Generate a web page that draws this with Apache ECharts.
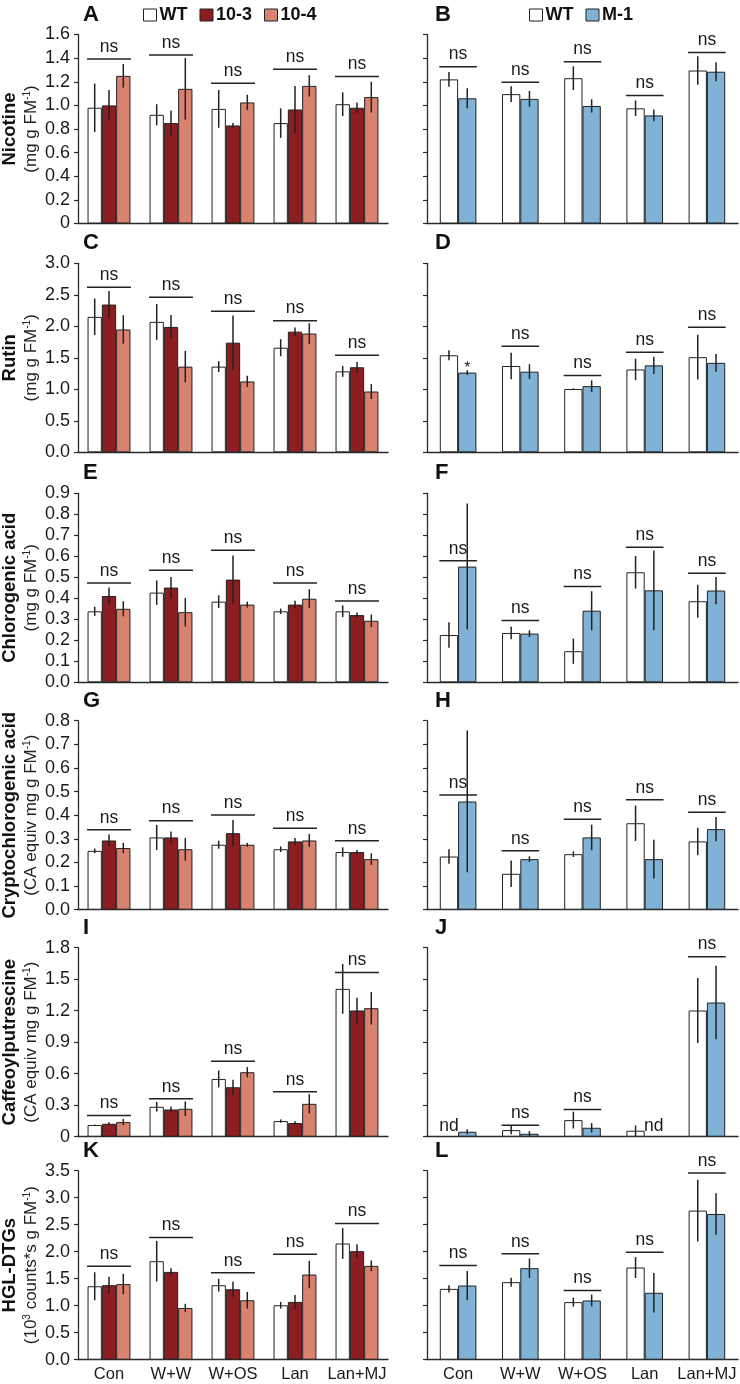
<!DOCTYPE html>
<html><head><meta charset="utf-8">
<script src="https://cdn.jsdelivr.net/npm/echarts@6/dist/echarts.min.js"></script>
<style>html,body{margin:0;padding:0;background:#fff}#c{width:740px;height:1384px}</style>
</head><body><div id="c"></div>
<script>
// ---------- DATA ----------
const categories = ['Con', 'W+W', 'W+OS', 'Lan', 'Lan+MJ'];
const leftLines = ['WT', '10-3', '10-4'];
const rightLines = ['WT', 'M-1'];

// A: Nicotine (WT, 10-3, 10-4)
const nicWT = [0.98, 0.92, 0.97, 0.85, 1.01];
const nicWTErr = [0.205, 0.09, 0.16, 0.125, 0.10];
const nic103 = [1.00, 0.85, 0.83, 0.965, 0.98];
const nic103Err = [0.13, 0.107, 0.02, 0.20, 0.045];
const nic104 = [1.25, 1.14, 1.025, 1.165, 1.07];
const nic104Err = [0.10, 0.26, 0.065, 0.09, 0.13];
const nicSigL = [1.392, 1.426, 1.187, 1.305, 1.244];
// B: Nicotine (WT, M-1)
const nicWTb = [1.22, 1.095, 1.23, 0.975, 1.295];
const nicWTbErr = [0.063, 0.067, 0.10, 0.066, 0.12];
const nicM1 = [1.06, 1.055, 0.995, 0.915, 1.285];
const nicM1Err = [0.084, 0.067, 0.056, 0.05, 0.08];
const nicSigR = [1.328, 1.196, 1.37, 1.083, 1.448];
const nicTicks = ['0', '0.2', '0.4', '0.6', '0.8', '1.0', '1.2', '1.4', '1.6'];

// C: Rutin
const rutWT = [2.15, 2.07, 1.36, 1.66, 1.285];
const rutWTErr = [0.29, 0.285, 0.087, 0.136, 0.087];
const rut103 = [2.345, 1.99, 1.74, 1.915, 1.35];
const rut103Err = [0.215, 0.19, 0.43, 0.066, 0.084];
const rut104 = [1.95, 1.36, 1.125, 1.885, 0.965];
const rut104Err = [0.225, 0.25, 0.09, 0.163, 0.12];
const rutSigL = [2.62, 2.46, 2.24, 2.09, 1.54];
// D
const rutWTb = [1.54, 1.37, 1.005, 1.315, 1.51];
const rutWTbErr = [0.079, 0.21, 0.01, 0.17, 0.355];
const rutM1 = [1.265, 1.28, 1.05, 1.38, 1.42];
const rutM1Err = [0.037, 0.118, 0.092, 0.137, 0.142];
const rutSigR = [1.39, 1.684, 1.221, 1.589, 1.984];
const rutSigTextR = ['*', 'ns', 'ns', 'ns', 'ns'];
const rutTicks = ['0.0', '0.5', '1.0', '1.5', '2.0', '2.5', '3.0'];

// E: Chlorogenic acid
const cgaWT = [0.338, 0.427, 0.384, 0.338, 0.338];
const cgaWTErr = [0.022, 0.058, 0.03, 0.013, 0.028];
const cga103 = [0.411, 0.451, 0.489, 0.37, 0.32];
const cga103Err = [0.04, 0.05, 0.115, 0.018, 0.012];
const cga104 = [0.35, 0.334, 0.37, 0.398, 0.293];
const cga104Err = [0.036, 0.068, 0.014, 0.045, 0.03];
const cgaSigL = [0.473, 0.534, 0.629, 0.473, 0.387];
// F
const cgaWTb = [0.225, 0.235, 0.148, 0.524, 0.386];
const cgaWTbErr = [0.061, 0.03, 0.06, 0.078, 0.079];
const cgaM1 = [0.551, 0.232, 0.341, 0.438, 0.437];
const cgaM1Err = [0.30, 0.016, 0.093, 0.19, 0.065];
const cgaSigR = [0.579, 0.294, 0.456, 0.643, 0.519];
const cgaTicks = ['0.0', '0.1', '0.2', '0.3', '0.4', '0.5', '0.6', '0.7', '0.8', '0.9'];

// G: Cryptochlorogenic acid
const ccaWT = [0.249, 0.306, 0.275, 0.256, 0.244];
const ccaWTErr = [0.01, 0.053, 0.017, 0.012, 0.02];
const cca103 = [0.293, 0.306, 0.324, 0.289, 0.244];
const cca103Err = [0.025, 0.025, 0.056, 0.014, 0.009];
const cca104 = [0.261, 0.256, 0.275, 0.293, 0.214];
const cca104Err = [0.022, 0.048, 0.008, 0.028, 0.025];
const ccaSigL = [0.338, 0.377, 0.401, 0.345, 0.292];
// H
const ccaWTb = [0.225, 0.152, 0.235, 0.366, 0.289];
const ccaWTbErr = [0.031, 0.056, 0.012, 0.075, 0.058];
const ccaM1 = [0.458, 0.214, 0.306, 0.214, 0.341];
const ccaM1Err = [0.30, 0.012, 0.054, 0.082, 0.051];
const ccaSigR = [0.486, 0.249, 0.383, 0.465, 0.413];
const ccaTicks = ['0.0', '0.1', '0.2', '0.3', '0.4', '0.5', '0.6', '0.7', '0.8'];

// I: Caffeoylputrescine
const cpWT = [0.111, 0.285, 0.55, 0.149, 1.408];
const cpWTErr = [0.005, 0.046, 0.08, 0.016, 0.237];
const cp103 = [0.123, 0.259, 0.471, 0.13, 1.202];
const cp103Err = [0.015, 0.028, 0.071, 0.016, 0.122];
const cp104 = [0.139, 0.266, 0.614, 0.313, 1.224];
const cp104Err = [0.03, 0.07, 0.05, 0.092, 0.155];
const cpSigL = [0.202, 0.361, 0.718, 0.427, 1.563];
// J (null = nd, not detected)
const cpWTb = [null, 0.063, 0.158, 0.057, 1.202];
const cpWTbErr = [null, 0.04, 0.08, 0.05, 0.31];
const cpM1 = [0.047, 0.028, 0.085, null, 1.278];
const cpM1Err = [0.023, 0.025, 0.045, null, 0.35];
const cpSigR = [null, 0.108, 0.259, null, 1.715];
const cpTicks = ['0', '0.3', '0.6', '0.9', '1.2', '1.5', '1.8'];

// K: HGL-DTGs
const hglWT = [1.36, 1.824, 1.379, 1.008, 2.152];
const hglWTErr = [0.26, 0.377, 0.117, 0.062, 0.284];
const hgl103 = [1.38, 1.626, 1.305, 1.07, 2.01];
const hgl103Err = [0.155, 0.068, 0.14, 0.13, 0.13];
const hgl104 = [1.40, 0.958, 1.101, 1.577, 1.738];
const hgl104Err = [0.19, 0.077, 0.155, 0.254, 0.10];
const hglSigL = [1.732, 2.264, 1.608, 1.954, 2.523];
// L
const hglWTb = [1.312, 1.436, 1.066, 1.707, 2.761];
const hglWTbErr = [0.068, 0.083, 0.083, 0.194, 0.57];
const hglM1 = [1.374, 1.695, 1.097, 1.239, 2.699];
const hglM1Err = [0.268, 0.179, 0.108, 0.367, 0.385];
const hglSigR = [1.744, 1.96, 1.282, 1.99, 3.457];
const hglTicks = ['0.0', '0.5', '1.0', '1.5', '2.0', '2.5', '3.0', '3.5'];

// ---------- PANELS ----------
const panels = [
  {letter:'A', col:0, row:0, title:'Nicotine', unit:'(mg g FM{s|-1})', max:1.6, interval:0.2, ticks:nicTicks,
   vals:[nicWT, nic103, nic104], errs:[nicWTErr, nic103Err, nic104Err], sig:nicSigL},
  {letter:'B', col:1, row:0, max:1.6, interval:0.2, ticks:nicTicks,
   vals:[nicWTb, nicM1], errs:[nicWTbErr, nicM1Err], sig:nicSigR},
  {letter:'C', col:0, row:1, title:'Rutin', unit:'(mg g FM{s|-1})', max:3, interval:0.5, ticks:rutTicks,
   vals:[rutWT, rut103, rut104], errs:[rutWTErr, rut103Err, rut104Err], sig:rutSigL},
  {letter:'D', col:1, row:1, max:3, interval:0.5, ticks:rutTicks,
   vals:[rutWTb, rutM1], errs:[rutWTbErr, rutM1Err], sig:rutSigR, sigText:rutSigTextR},
  {letter:'E', col:0, row:2, title:'Chlorogenic acid', unit:'(mg g FM{s|-1})', max:0.9, interval:0.1, ticks:cgaTicks,
   vals:[cgaWT, cga103, cga104], errs:[cgaWTErr, cga103Err, cga104Err], sig:cgaSigL},
  {letter:'F', col:1, row:2, max:0.9, interval:0.1, ticks:cgaTicks,
   vals:[cgaWTb, cgaM1], errs:[cgaWTbErr, cgaM1Err], sig:cgaSigR},
  {letter:'G', col:0, row:3, title:'Cryptochlorogenic acid', unit:'(CA equiv mg g FM{s|-1})', max:0.8, interval:0.1, ticks:ccaTicks,
   vals:[ccaWT, cca103, cca104], errs:[ccaWTErr, cca103Err, cca104Err], sig:ccaSigL},
  {letter:'H', col:1, row:3, max:0.8, interval:0.1, ticks:ccaTicks,
   vals:[ccaWTb, ccaM1], errs:[ccaWTbErr, ccaM1Err], sig:ccaSigR},
  {letter:'I', col:0, row:4, title:'Caffeoylputrescine', unit:'(CA equiv mg g FM{s|-1})', max:1.8, interval:0.3, ticks:cpTicks,
   vals:[cpWT, cp103, cp104], errs:[cpWTErr, cp103Err, cp104Err], sig:cpSigL},
  {letter:'J', col:1, row:4, max:1.8, interval:0.3, ticks:cpTicks,
   vals:[cpWTb, cpM1], errs:[cpWTbErr, cpM1Err], sig:cpSigR},
  {letter:'K', col:0, row:5, title:'HGL-DTGs', unit:'(10{s|3} counts*s g FM{s|-1})', max:3.5, interval:0.5, ticks:hglTicks,
   vals:[hglWT, hgl103, hgl104], errs:[hglWTErr, hgl103Err, hgl104Err], sig:hglSigL},
  {letter:'L', col:1, row:5, max:3.5, interval:0.5, ticks:hglTicks,
   vals:[hglWTb, hglM1], errs:[hglWTbErr, hglM1Err], sig:hglSigR}
];

// ---------- STYLE ----------
const FONT = '"Liberation Sans", Arial, Helvetica, sans-serif';
const TXT = '#1a1a1a';
const AX = '#2a2a2a';
const colorsL = ['#ffffff', '#8c1d21', '#d9826f'];
const colorsR = ['#ffffff', '#7fb2d4'];
const colX = [78, 427], colW = [310, 311];
const rowTop = [34.5, 263.3, 493.3, 720.7, 947.7, 1170.7];
const plotH = 189;
const bwL = 14.3, bwR = 18.3;

const grid = [], xAxis = [], yAxis = [], series = [], graphic = [];

panels.forEach((p, i) => {
  const n = p.vals.length;
  const bw = p.col === 0 ? bwL : bwR;
  const names = p.col === 0 ? leftLines : rightLines;
  const colors = p.col === 0 ? colorsL : colorsR;
  const top = rowTop[p.row];
  grid.push({left: colX[p.col], top: top, width: colW[p.col], height: plotH});
  xAxis.push({
    type: 'category', gridIndex: i, data: categories,
    axisLine: {lineStyle: {color: AX, width: 1.3}},
    axisTick: {length: 4, lineStyle: {color: AX, width: 1.2}},
    axisLabel: {show: p.row === 5, interval: 0, fontSize: 16.5, color: TXT, fontFamily: FONT, margin: 6},
    splitLine: {show: false}
  });
  yAxis.push({
    type: 'value', gridIndex: i, min: 0, max: p.max, interval: p.interval,
    axisLine: {show: true, lineStyle: {color: AX, width: 1.3}},
    axisTick: {show: true, length: 4, lineStyle: {color: AX, width: 1.2}},
    splitLine: {show: false},
    axisLabel: {show: p.col === 0, fontSize: 18, color: TXT, fontFamily: FONT, margin: 8,
      formatter: (v) => p.ticks[Math.round(v / p.interval)]}
  });
  p.vals.forEach((vals, s) => {
    series.push({
      type: 'bar', name: names[s], xAxisIndex: i, yAxisIndex: i,
      data: vals.map(v => v === null ? '-' : v),
      barWidth: bw, barGap: '0%', animation: false, silent: true,
      itemStyle: {color: colors[s], borderColor: '#222', borderWidth: 1}
    });
  });
  // error bars
  const errData = [];
  p.vals.forEach((vals, s) => vals.forEach((v, c) => {
    if (v !== null) errData.push([c, v, p.errs[s][c], s]);
  }));
  series.push({
    type: 'custom', xAxisIndex: i, yAxisIndex: i, data: errData, animation: false, silent: true, z: 5,
    renderItem: (params, api) => {
      const c = api.value(0), m = api.value(1), e = api.value(2), s = api.value(3);
      const t = api.coord([c, m + e]), b = api.coord([c, Math.max(0, m - e)]);
      const x = t[0] + (s - (n - 1) / 2) * bw;
      return {type: 'line', shape: {x1: x, y1: t[1], x2: x, y2: b[1]},
        style: {stroke: '#222', lineWidth: 1.5}};
    }
  });
  // significance annotations
  const sigData = [];
  p.sig.forEach((lv, c) => { if (lv !== null) sigData.push([c, lv]); });
  series.push({
    type: 'custom', xAxisIndex: i, yAxisIndex: i, data: sigData, animation: false, silent: true, z: 6,
    renderItem: (params, api) => {
      const c = api.value(0), lv = api.value(1);
      const pt = api.coord([c, lv]);
      const txt = p.sigText ? p.sigText[c] : 'ns';
      if (txt === '*') {
        const x = pt[0] + ((n - 1) - (n - 1) / 2) * bw;
        return {type: 'text', x: x, y: pt[1] + 4,
          style: {text: '*', fontSize: 16, fontFamily: FONT, fill: TXT, align: 'center', verticalAlign: 'middle', textAlign: 'center', textVerticalAlign: 'middle'}};
      }
      const half = n * bw / 2 + 0.5;
      return {type: 'group', children: [
        {type: 'line', shape: {x1: pt[0] - half, y1: pt[1], x2: pt[0] + half, y2: pt[1]},
          style: {stroke: '#222', lineWidth: 1.5}},
        {type: 'text', x: pt[0], y: pt[1] - 3,
          style: {text: txt, fontSize: 17.5, fontFamily: FONT, fill: TXT, align: 'center', verticalAlign: 'bottom', textAlign: 'center', textVerticalAlign: 'bottom'}}
      ]};
    }
  });
  // nd labels
  const ndData = [];
  p.vals.forEach((vals, s) => vals.forEach((v, c) => { if (v === null) ndData.push([c, 0, s]); }));
  if (ndData.length) {
    series.push({
      type: 'custom', xAxisIndex: i, yAxisIndex: i, data: ndData, animation: false, silent: true, z: 6,
      renderItem: (params, api) => {
        const c = api.value(0), s = api.value(2);
        const pt = api.coord([c, 0]);
        const x = pt[0] + (s - (n - 1) / 2) * bw;
        return {type: 'text', x: x, y: pt[1] - 2,
          style: {text: 'nd', fontSize: 17.5, fontFamily: FONT, fill: TXT, align: 'center', verticalAlign: 'bottom', textAlign: 'center', textVerticalAlign: 'bottom'}};
      }
    });
  }
  // panel letter
  graphic.push({type: 'text', x: colX[p.col] + (p.col === 0 ? 5 : 8), y: top - 31,
    style: {text: p.letter, fontSize: 22, fontWeight: 'bold', fontFamily: FONT, fill: '#111'}});
  // axis titles
  if (p.title) {
    const cy = top + plotH / 2;
    graphic.push({type: 'text', x: 10, y: cy, rotation: Math.PI / 2,
      style: {text: p.title, fontSize: 18.5, fontWeight: 'bold', fontFamily: FONT, fill: '#111',
        align: 'center', verticalAlign: 'middle', textAlign: 'center', textVerticalAlign: 'middle'}});
    graphic.push({type: 'text', x: 31, y: cy, rotation: Math.PI / 2,
      style: {text: p.unit, fontSize: 17, fontFamily: FONT, fill: '#222',
        align: 'center', verticalAlign: 'middle', textAlign: 'center', textVerticalAlign: 'middle',
        rich: {s: {fontSize: 10, fontFamily: FONT, fill: '#222', verticalAlign: 'top'}}}});
  }
});

const legendCommon = {
  icon: 'rect', itemWidth: 13, itemHeight: 12, itemGap: 12, top: 6, padding: 0,
  itemStyle: {borderColor: '#222', borderWidth: 1},
  textStyle: {fontSize: 18, fontWeight: 'bold', fontFamily: FONT, color: '#111', padding: [0, 0, 0, -2]},
  selectedMode: false
};

const chart = echarts.init(document.getElementById('c'), null, {renderer: 'canvas'});
chart.setOption({
  animation: false,
  backgroundColor: '#fff',
  textStyle: {fontFamily: FONT},
  grid, xAxis, yAxis, series, graphic,
  legend: [
    Object.assign({}, legendCommon, {left: 143, data: leftLines}),
    Object.assign({}, legendCommon, {left: 529, data: rightLines})
  ]
});
</script>
</body></html>
